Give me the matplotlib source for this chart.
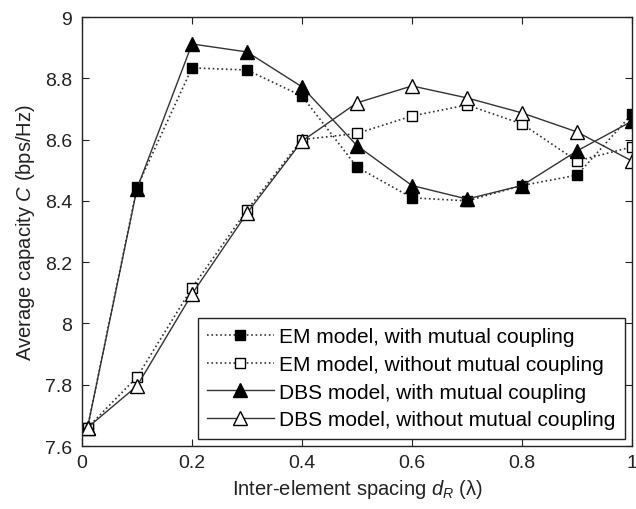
import matplotlib
matplotlib.use("Agg")
import matplotlib.pyplot as plt

plt.rcParams['font.family'] = ['Liberation Sans', 'DejaVu Sans']
plt.rcParams['mathtext.fontset'] = 'custom'
plt.rcParams['mathtext.it'] = 'Liberation Sans:italic'
plt.rcParams['mathtext.rm'] = 'Liberation Sans'

# data
spacing = [0.01, 0.1, 0.2, 0.3, 0.4, 0.5, 0.6, 0.7, 0.8, 0.9, 1.0]
em_mc = [7.66, 8.445, 8.834, 8.827, 8.742, 8.51, 8.41, 8.40, 8.45, 8.484, 8.683]
em_nomc = [7.66, 7.825, 8.116, 8.37, 8.60, 8.62, 8.677, 8.713, 8.651, 8.53, 8.576]
dbs_mc = [7.66, 8.44, 8.912, 8.886, 8.772, 8.58, 8.45, 8.406, 8.45, 8.563, 8.66]
dbs_nomc = [7.66, 7.796, 8.096, 8.36, 8.595, 8.72, 8.775, 8.736, 8.687, 8.625, 8.53]

labels = ["EM model, with mutual coupling",
          "EM model, without mutual coupling",
          "DBS model, with mutual coupling",
          "DBS model, without mutual coupling"]

fig = plt.figure(figsize=(6.36, 5.10), dpi=100)
ax = fig.add_axes([0.129, 0.1235, 0.8647, 0.8412])

lc = '#333333'
ax.plot(spacing, em_mc, ':', color=lc, lw=1.2, marker='s', ms=7,
        mfc='black', mec='black', label=labels[0])
ax.plot(spacing, em_nomc, ':', color=lc, lw=1.2, marker='s', ms=7,
        mfc='white', mec='black', label=labels[1])
ax.plot(spacing, dbs_mc, '-', color=lc, lw=1.0, marker='^', ms=9.5,
        mfc='black', mec='black', label=labels[2])
ax.plot(spacing, dbs_nomc, '-', color=lc, lw=1.0, marker='^', ms=9.5,
        mfc='white', mec='black', label=labels[3])

ax.set_xlim(0, 1)
ax.set_ylim(7.6, 9)
ax.set_xticks([0, 0.2, 0.4, 0.6, 0.8, 1])
ax.set_xticklabels(['0', '0.2', '0.4', '0.6', '0.8', '1'])
ax.set_yticks([7.6, 7.8, 8, 8.2, 8.4, 8.6, 8.8, 9])
ax.set_yticklabels(['7.6', '7.8', '8', '8.2', '8.4', '8.6', '8.8', '9'])
ax.tick_params(direction='in', top=True, right=True, labelsize=14, length=5,
               colors='#222222')
ax.tick_params(axis='y', pad=7)
ax.tick_params(axis='x', pad=6)
for s in ax.spines.values():
    s.set_color('#222222')
    s.set_linewidth(1.0)

ax.set_xlabel(r'Inter-element spacing $d_R$ (λ)', fontsize=14.5,
              color='#222222', labelpad=4)
ax.set_ylabel(r'Average capacity $C$ (bps/Hz)', fontsize=14.5,
              color='#222222', labelpad=6)

leg = ax.legend(loc='lower right', fontsize=15, handlelength=3.2,
                fancybox=False, framealpha=1, edgecolor='#222222',
                borderaxespad=0.35, labelspacing=0.42, handletextpad=0.25,
                borderpad=0.45)
leg.get_frame().set_linewidth(1.0)

fig.savefig("out.png", dpi=100)
